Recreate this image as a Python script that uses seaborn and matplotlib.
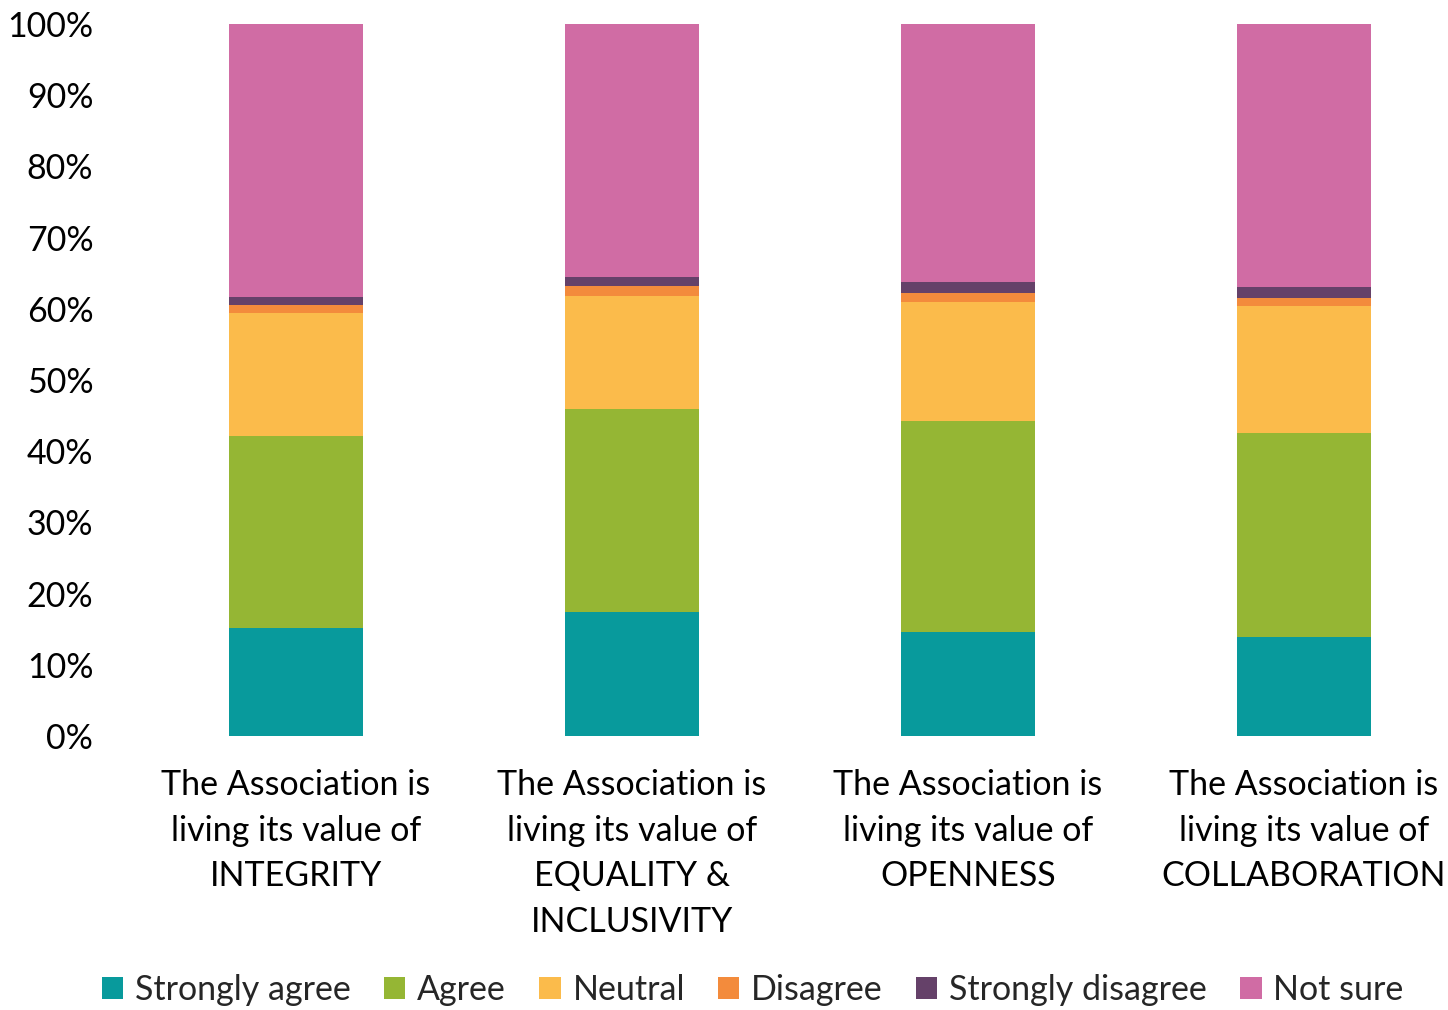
import matplotlib
matplotlib.use("Agg")
import matplotlib.pyplot as plt
from matplotlib.patches import Patch
import seaborn as sns
import pandas as pd
import numpy as np

categories = [
    "The Association is\nliving its value of\nINTEGRITY",
    "The Association is\nliving its value of\nEQUALITY &\nINCLUSIVITY",
    "The Association is\nliving its value of\nOPENNESS",
    "The Association is\nliving its value of\nCOLLABORATION",
]
responses = ["Strongly agree", "Agree", "Neutral", "Disagree", "Strongly disagree", "Not sure"]

strongly_agree = [15.1, 17.4, 14.6, 13.9]
agree = [27.1, 28.5, 29.6, 28.7]
neutral = [17.2, 15.9, 16.7, 17.8]
disagree = [1.1, 1.4, 1.3, 1.1]
strongly_disagree = [1.1, 1.2, 1.5, 1.5]
not_sure = [38.4, 35.6, 36.3, 37.0]

colors = ["#089A9C", "#95B634", "#FBBB4B", "#F38B3C", "#654169", "#D06CA4"]

sns.set_theme(style="white")
plt.rcParams["font.family"] = ["Lato", "DejaVu Sans"]
FS = 24.5

df = pd.DataFrame({
    "category": categories,
    "Strongly agree": strongly_agree,
    "Agree": agree,
    "Neutral": neutral,
    "Disagree": disagree,
    "Strongly disagree": strongly_disagree,
    "Not sure": not_sure,
})
cum = df[responses].cumsum(axis=1)

fig = plt.figure(figsize=(14.48, 10.10), dpi=100)
ax = fig.add_axes([128 / 1448, 274 / 1010, 1320 / 1448, 712 / 1010])

# Stack by drawing the cumulative totals from the top segment down
for resp, col in reversed(list(zip(responses, colors))):
    sns.barplot(x=df["category"], y=cum[resp], color=col, saturation=1,
                width=0.4, ax=ax, linewidth=0, order=categories)

ax.set_xlim(-0.5, -0.5 + 1320 / 336)
ax.set_ylim(0, 100)
ax.set_yticks(np.arange(0, 101, 10))
ax.set_yticklabels([f"{v}%" for v in range(0, 101, 10)], fontsize=FS, color="#000000")
ax.tick_params(axis="y", length=0, pad=25)
ax.tick_params(axis="x", length=0, pad=24)
for lbl in ax.get_xticklabels():
    lbl.set_fontsize(FS)
    lbl.set_linespacing(1.52)
    lbl.set_multialignment("center")
    lbl.set_color("#000000")
ax.set_xlabel("")
ax.set_ylabel("")
for s in ax.spines.values():
    s.set_visible(False)

handles = [Patch(facecolor=c, edgecolor="none", label=r) for r, c in zip(responses, colors)]
fig.legend(handles=handles, loc="center", bbox_to_anchor=(0.52, 0.02), ncol=6,
           frameon=False, fontsize=FS, handlelength=0.62, handleheight=0.62,
           handletextpad=0.35, columnspacing=0.98)

fig.savefig("out.png", dpi=100)
